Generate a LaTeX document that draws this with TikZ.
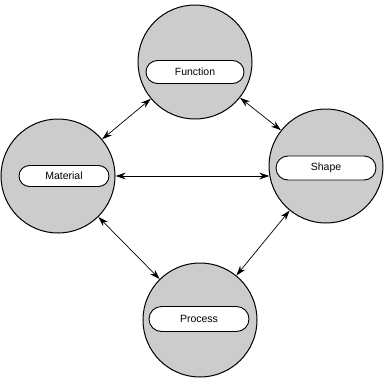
\documentclass[tikz,border=0pt]{standalone}
\usepackage{fontspec}
\setmainfont{Liberation Sans}
\usetikzlibrary{arrows.meta,shapes.misc}
\begin{document}
\begin{tikzpicture}[x=1pt,y=-1pt,
  ball/.style={circle,draw=black,line width=1pt,fill=black!20,minimum size=114pt,inner sep=0pt},
  pill/.style={rounded rectangle,draw=black,line width=0.9pt,fill=white,minimum width=98pt,minimum height=23pt,inner sep=0pt,font=\fontsize{10.5}{12}\selectfont},
  link/.style={line width=0.7pt,{Stealth[length=10pt,width=6.5pt]}-{Stealth[length=10pt,width=6.5pt]}}]
\useasboundingbox (0,0) rectangle (385,383);
\node[ball] (fun) at (195,62) {};
\node[ball] (mat) at (58,176) {};
\node[ball] (shp) at (326,166) {};
\node[ball] (pro) at (200,320) {};
\node[pill] (funl) at (195,72) {Function};
\node[pill,minimum width=90pt,minimum height=21pt] (matl) at (64,176) {Material};
\node[pill,minimum width=100pt,minimum height=24pt] (shpl) at (326,168) {Shape};
\node[pill,minimum width=100pt,minimum height=25pt] (prol) at (199,319) {Process};
\coordinate (hs) at (269.5,176);
\draw[link] (fun) -- (mat);
\draw[link] (fun) -- (shp);
\draw[link] (mat.east |- hs) -- (hs);
\draw[link] (mat) -- (pro);
\draw[link] (shp) -- (pro);
\end{tikzpicture}
\end{document}
